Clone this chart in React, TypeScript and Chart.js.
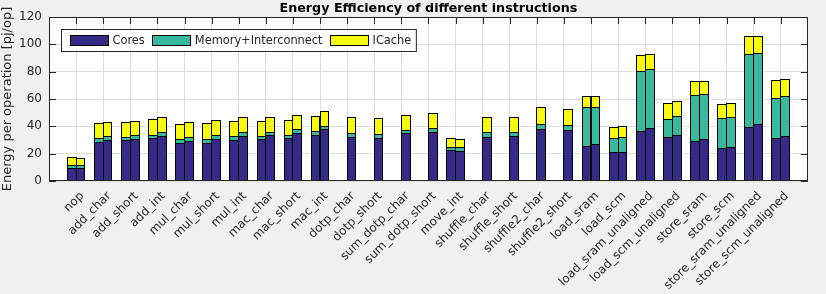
import React, { useEffect, useRef } from "react";
import { Chart, registerables } from "chart.js";

Chart.register(...registerables);

const categories = [
  "nop", "add_char", "add_short", "add_int", "mul_char", "mul_short", "mul_int",
  "mac_char", "mac_short", "mac_int", "dotp_char", "dotp_short", "sum_dotp_char",
  "sum_dotp_short", "move_int", "shuffle_char", "shuffle_short", "shuffle2_char",
  "shuffle2_short", "load_sram", "load_scm", "load_sram_unaligned", "load_scm_unaligned",
  "store_sram", "store_scm", "store_sram_unaligned", "store_scm_unaligned",
];

// left bar of each pair
const coresA = [9.3, 28.9, 29.9, 31.3, 27.7, 27.7, 29.9, 30.6, 31.3, 33.5, null, null, null, null, 22.5, null, null, null, null, 25.7, 21.1, 36.5, 32.3, 29.1, 24.0, 39.4, 31.3];
const memA = [2.2, 2.2, 2.2, 2.7, 2.9, 2.9, 2.9, 2.2, 2.2, 3.0, null, null, null, null, 2.5, null, null, null, null, 28.4, 10.2, 44.0, 13.0, 33.8, 22.0, 53.6, 29.4];
const icacheA = [5.9, 11.2, 11.0, 11.3, 11.0, 11.7, 11.0, 11.0, 11.1, 11.0, null, null, null, null, 6.3, null, null, null, null, 8.1, 8.1, 11.8, 11.7, 10.3, 10.3, 13.2, 13.2];

// right bar of each pair
const coresB = [9.3, 29.9, 30.4, 32.8, 29.1, 30.6, 32.8, 33.5, 35.0, 37.9, 32.1, 31.3, 35.0, 35.7, 21.8, 32.1, 32.8, 37.9, 37.2, 26.9, 21.1, 38.9, 33.5, 30.6, 24.7, 41.6, 32.8];
const memB = [2.2, 2.9, 3.1, 2.9, 3.0, 2.9, 2.9, 2.2, 2.9, 2.2, 2.9, 3.0, 2.2, 3.2, 3.2, 3.6, 2.9, 3.7, 3.7, 27.2, 11.0, 43.1, 14.0, 33.0, 22.1, 52.2, 29.1];
const icacheB = [5.1, 10.3, 10.3, 11.1, 11.0, 11.1, 11.1, 11.1, 10.3, 11.1, 11.8, 11.7, 11.0, 10.8, 5.6, 11.1, 11.1, 12.5, 11.7, 8.1, 8.0, 11.0, 11.0, 9.6, 10.2, 12.4, 12.8];

const seriesNames = ["Cores", "Memory+Interconnect", "ICache"];
const seriesColors = ["#352A87", "#38B89E", "#F9FB0E"];
const yTicks = [0, 20, 40, 60, 80, 100, 120];

const FONT = "'DejaVu Sans', sans-serif";
const TXT = "#262626";

const pad = (arr: (number | null)[]) => [null, ...arr, null];

const decorPlugin = {
  id: "decor",
  beforeDraw(chart: any) {
    const { ctx, chartArea: a } = chart;
    ctx.save();
    ctx.fillStyle = "#F0F0F0";
    ctx.fillRect(0, 0, chart.width, chart.height);
    ctx.fillStyle = "#FFFFFF";
    ctx.fillRect(a.left, a.top, a.right - a.left, a.bottom - a.top);
    ctx.restore();
  },
  beforeDatasetsDraw(chart: any) {
    const { ctx, chartArea: a, scales } = chart;
    // snap bar rectangles to whole pixels so outlines stay crisp
    chart.data.datasets.forEach((_d: any, di: number) => {
      const meta = chart.getDatasetMeta(di);
      meta.data.forEach((el: any) => {
        if (!el || !isFinite(el.x) || !isFinite(el.width)) return;
        const l = Math.round(el.x - el.width / 2);
        const r = Math.round(el.x + el.width / 2);
        el.x = (l + r) / 2;
        el.width = r - l;
        el.y = Math.round(el.y);
        el.base = Math.round(el.base);
        el.height = el.base - el.y;
      });
    });
    const L = 7;
    ctx.save();
    ctx.strokeStyle = TXT;
    ctx.lineWidth = 1;
    ctx.beginPath();
    for (let i = 1; i <= categories.length; i++) {
      const x = Math.round(scales.x.getPixelForValue(i)) + 0.5;
      ctx.moveTo(x, a.top);
      ctx.lineTo(x, a.top + L);
      ctx.moveTo(x, a.bottom);
      ctx.lineTo(x, a.bottom - L);
    }
    for (const v of yTicks) {
      const y = Math.round(scales.y.getPixelForValue(v)) + 0.5;
      ctx.moveTo(a.left, y);
      ctx.lineTo(a.left + L, y);
      ctx.moveTo(a.right, y);
      ctx.lineTo(a.right - L, y);
    }
    ctx.stroke();
    ctx.restore();
  },
  afterDatasetsDraw(chart: any) {
    const { ctx, chartArea: a } = chart;
    ctx.save();
    // axes box
    ctx.strokeStyle = TXT;
    ctx.lineWidth = 1;
    ctx.strokeRect(Math.round(a.left) + 0.5, Math.round(a.top) + 0.5, Math.round(a.right - a.left) - 1, Math.round(a.bottom - a.top) - 1);

    // title
    ctx.fillStyle = "#000";
    ctx.font = `bold 12.7px ${FONT}`;
    ctx.textAlign = "center";
    ctx.textBaseline = "middle";
    ctx.fillText("Energy Efficiency of different instructions", (a.left + a.right) / 2, 8.5);

    // legend
    ctx.font = `11.4px ${FONT}`;
    const bx = Math.round(a.left + 12) + 0.5;
    const by = Math.round(a.top + 12) + 0.5;
    const bh = 22;
    const sw = 39, sh = 11, gap = 4, itemGap = 7;
    let x = bx + 8;
    const items: { sx: number; tx: number }[] = [];
    seriesNames.forEach((n) => {
      const tw = ctx.measureText(n).width;
      items.push({ sx: x, tx: x + sw + gap });
      x += sw + gap + tw + itemGap;
    });
    const bw = x - bx - 2;
    ctx.fillStyle = "#FFFFFF";
    ctx.fillRect(bx, by, bw, bh);
    ctx.strokeStyle = TXT;
    ctx.strokeRect(bx, by, bw, bh);
    seriesNames.forEach((n, i) => {
      const it = items[i];
      const sy = Math.round(by + (bh - sh) / 2);
      ctx.fillStyle = seriesColors[i];
      ctx.fillRect(Math.round(it.sx), sy, sw, sh);
      ctx.strokeStyle = "#000";
      ctx.strokeRect(Math.round(it.sx) + 0.5, sy + 0.5, sw - 1, sh - 1);
      ctx.fillStyle = TXT;
      ctx.textAlign = "left";
      ctx.textBaseline = "middle";
      ctx.fillText(n, it.tx, by + bh / 2 + 0.5);
    });
    ctx.restore();
  },
};

export default function App() {
  const ref = useRef<HTMLCanvasElement | null>(null);
  useEffect(() => {
    document.body.style.margin = "0";
    const labels = ["", ...categories, ""];
    const mk = (name: string, color: string, data: (number | null)[], stack: string) => ({
      label: name,
      data: pad(data),
      backgroundColor: color,
      borderColor: "#000",
      borderWidth: 1,
      borderSkipped: "bottom",
      inflateAmount: 0,
      stack,
      barPercentage: 1.11,
      categoryPercentage: 0.65,
    });
    const chart = new Chart(ref.current as HTMLCanvasElement, {
      type: "bar",
      data: {
        labels,
        datasets: [
          mk(seriesNames[0], seriesColors[0], coresA, "a"),
          mk(seriesNames[1], seriesColors[1], memA, "a"),
          mk(seriesNames[2], seriesColors[2], icacheA, "a"),
          mk(seriesNames[0], seriesColors[0], coresB, "b"),
          mk(seriesNames[1], seriesColors[1], memB, "b"),
          mk(seriesNames[2], seriesColors[2], icacheB, "b"),
        ] as any,
      },
      plugins: [decorPlugin],
      options: {
        animation: false,
        responsive: false,
        devicePixelRatio: 1,
        layout: { padding: { top: 17, right: 2, left: 0, bottom: 0 } },
        plugins: { legend: { display: false }, tooltip: { enabled: false }, title: { display: false } },
        scales: {
          x: {
            stacked: true,
            offset: false,
            grid: { offset: false, color: "#DEDEDE", drawTicks: false },
            border: { display: false },
            ticks: {
              autoSkip: false,
              maxRotation: 45,
              minRotation: 45,
              padding: 8,
              labelOffset: 6,
              color: TXT,
              font: { family: FONT, size: 12 },
            },
            afterFit: (s: any) => { s.height = 113; },
          },
          y: {
            stacked: true,
            min: 0,
            max: 120,
            grid: { color: "#DEDEDE", drawTicks: false },
            border: { display: false },
            ticks: { stepSize: 20, padding: 7, color: TXT, font: { family: FONT, size: 12 } },
            title: {
              display: true,
              text: "Energy per operation [pj/op]",
              color: TXT,
              font: { family: FONT, size: 13 },
              padding: 0,
            },
            afterFit: (s: any) => { s.width = 49; },
          },
        },
      },
    });
    return () => chart.destroy();
  }, []);
  return (
    <div style={{ width: 826, height: 294 }}>
      <canvas ref={ref} width={826} height={294} style={{ width: 826, height: 294, display: "block" }} />
    </div>
  );
}
